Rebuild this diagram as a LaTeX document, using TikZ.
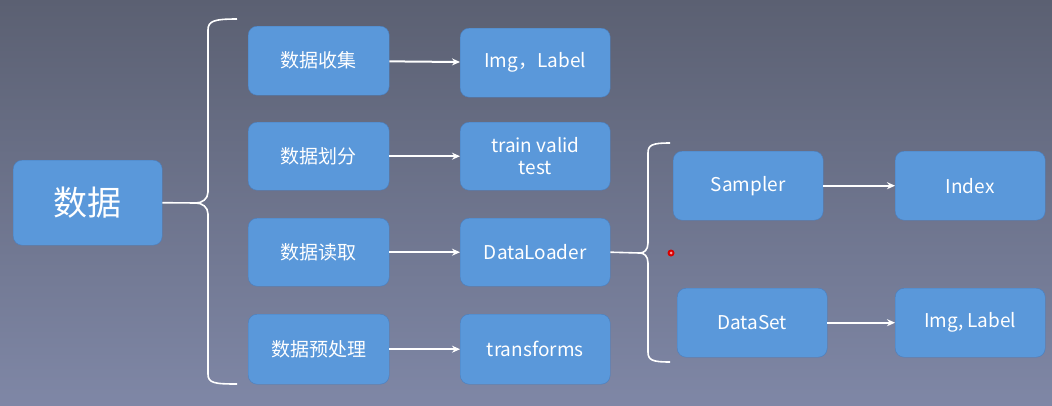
\documentclass[tikz,border=0pt]{standalone}
\usepackage{fontspec}
\setmainfont{Noto Sans CJK SC}
\begin{document}
\begin{tikzpicture}[x=1pt,y=-1pt,
  box/.style={draw=boxedge,fill=boxfill,rounded corners=9pt,text=white,font=\fontsize{19}{22}\selectfont,align=center,anchor=north west,inner sep=0pt},
  arr/.style={draw=white,line width=2pt,-{Stealth[length=8pt,width=7pt]}},
  br/.style={draw=white,line width=1.6pt}]
\usetikzlibrary{arrows.meta}
\definecolor{boxfill}{HTML}{5A98DA}
\definecolor{boxedge}{HTML}{4A7FBF}
\definecolor{bgtop}{HTML}{5B6072}
\definecolor{bgbot}{HTML}{7F87A6}
\shade[top color=bgtop,bottom color=bgbot] (0,0) rectangle (1052,405);
\useasboundingbox (0,0) rectangle (1052,405);
\newcommand{\bx}[6]{\node[box,minimum width=#4pt,minimum height=#5pt] (#1) at (#2,#3) {#6};}
\bx{root}{13}{160}{149}{85}{\fontsize{34}{38}\selectfont 数据}
\bx{a1}{248}{26}{141}{69}{数据收集}
\bx{a2}{248}{122}{141}{68}{数据划分}
\bx{a3}{248}{218}{141}{68}{数据读取}
\bx{a4}{248}{314}{141}{70}{数据预处理}
\bx{b1}{460}{28}{150}{69}{Img，Label}
\bx{b2}{460}{122}{150}{68}{\fontsize{19}{21}\selectfont train valid\\test}
\bx{b3}{460}{218}{150}{68}{DataLoader}
\bx{b4}{460}{314}{150}{70}{transforms}
\bx{c1}{673}{151}{150}{69}{Sampler}
\bx{d1}{895}{151}{150}{69}{Index}
\bx{c2}{677}{288}{150}{69}{DataSet}
\bx{d2}{895}{288}{150}{69}{Img, Label}
\draw[arr] (a1) -- (b1);
\draw[arr] (a2) -- (b2);
\draw[arr] (a3) -- (b3);
\draw[arr] (a4) -- (b4);
\draw[arr] (c1) -- (d1);
\draw[arr] (c2) -- (d2);
\coordinate (t1) at (196,203);
\coordinate (t2) at (640,253);
\draw[br] (root.east) -- (t1);
\draw[br] (237,19) .. controls (214,19) and (208,21) .. (208,30) -- (208,192) .. controls (208,199) and (202,203) .. (t1)
  .. controls (202,203) and (208,207) .. (208,214) -- (208,374) .. controls (208,383) and (214,384) .. (237,384);
\draw[br] (b3.east) -- (t2);
\draw[br] (670,143) .. controls (652,143) and (648,145) .. (648,153) -- (648,243) .. controls (648,250) and (644,253) .. (t2)
  .. controls (644,253) and (648,256) .. (648,263) -- (648,352) .. controls (648,360) and (652,362) .. (670,362);
\fill[red!85!black] (671,253) circle (3.5pt);
\fill[red!40] (671,253) circle (1.5pt);
\end{tikzpicture}
\end{document}
